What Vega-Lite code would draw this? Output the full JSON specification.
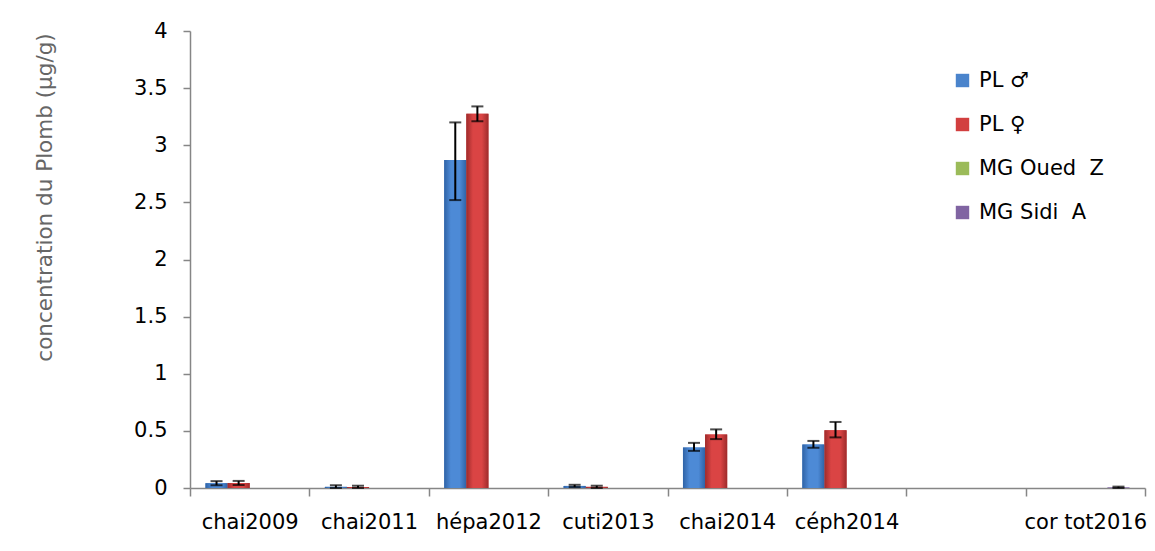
{
  "$schema": "https://vega.github.io/schema/vega-lite/v6.json",
  "width": 955,
  "height": 457,
  "autosize": {"type": "none"},
  "padding": {"left": 190, "top": 31, "right": 10, "bottom": 63},
  "background": "white",
  "config": {
    "view": {"stroke": null},
    "font": "DejaVu Sans"
  },
  "data": {
    "values": [
      {"cat": "chai2009", "series": "PL ♂", "value": 0.042, "lo": 0.024, "hi": 0.06},
      {"cat": "chai2009", "series": "PL ♀", "value": 0.044, "lo": 0.026, "hi": 0.062},
      {"cat": "chai2011", "series": "PL ♂", "value": 0.01, "lo": 0.0, "hi": 0.024},
      {"cat": "chai2011", "series": "PL ♀", "value": 0.008, "lo": 0.0, "hi": 0.02},
      {"cat": "hépa2012", "series": "PL ♂", "value": 2.87, "lo": 2.52, "hi": 3.2},
      {"cat": "hépa2012", "series": "PL ♀", "value": 3.275, "lo": 3.21, "hi": 3.34},
      {"cat": "cuti2013", "series": "PL ♂", "value": 0.018, "lo": 0.008, "hi": 0.028},
      {"cat": "cuti2013", "series": "PL ♀", "value": 0.01, "lo": 0.0, "hi": 0.02},
      {"cat": "chai2014", "series": "PL ♂", "value": 0.355, "lo": 0.325, "hi": 0.395},
      {"cat": "chai2014", "series": "PL ♀", "value": 0.468, "lo": 0.428, "hi": 0.513},
      {"cat": "céph2014", "series": "PL ♂", "value": 0.38, "lo": 0.352, "hi": 0.412},
      {"cat": "céph2014", "series": "PL ♀", "value": 0.506, "lo": 0.443, "hi": 0.578},
      {"cat": "cor tot2016", "series": "MG Sidi \u00a0A", "value": 0.006, "lo": 0.0, "hi": 0.012}
    ]
  },
  "encoding": {
    "x": {
      "field": "cat",
      "type": "nominal",
      "sort": ["chai2009", "chai2011", "hépa2012", "cuti2013", "chai2014", "céph2014", " ", "cor tot2016"],
      "scale": {"domain": ["chai2009", "chai2011", "hépa2012", "cuti2013", "chai2014", "céph2014", " ", "cor tot2016"], "paddingInner": 0, "paddingOuter": 0},
      "axis": {
        "title": null,
        "labelAngle": 0,
        "labelFontSize": 21,
        "labelColor": "black",
        "labelPadding": 15,
        "domainColor": "#868686",
        "tickColor": "#868686",
        "tickBand": "extent",
        "tickSize": 8,
        "domainWidth": 1.5,
        "tickWidth": 1.5
      }
    },
    "xOffset": {
      "field": "series",
      "type": "nominal",
      "scale": {"domain": ["PL ♂", "PL ♀", "MG Oued \u00a0Z", "MG Sidi \u00a0A"], "paddingInner": 0, "paddingOuter": 0.7}
    },
    "y": {
      "field": "value",
      "type": "quantitative",
      "scale": {"domain": [0, 4]},
      "axis": {
        "title": "concentration du Plomb (µg/g)",
        "titleFontSize": 21.5,
        "titleFontWeight": "normal",
        "titleColor": "#666666",
        "titleX": -145,
        "titleY": 166,
        "titleAngle": 270,
        "titleAlign": "center",
        "titleBaseline": "middle",
        "values": [0, 0.5, 1, 1.5, 2, 2.5, 3, 3.5, 4],
        "format": "~g",
        "grid": false,
        "labelFontSize": 21,
        "labelColor": "black",
        "labelPadding": 16,
        "domainColor": "#868686",
        "tickColor": "#868686",
        "tickSize": 7,
        "domainWidth": 1.5,
        "tickWidth": 1.5
      }
    }
  },
  "layer": [
    {
      "mark": {"type": "bar"},
      "encoding": {
        "color": {
          "field": "series",
          "type": "nominal",
          "scale": {"domain": ["PL ♂", "PL ♀", "MG Oued \u00a0Z", "MG Sidi \u00a0A"], "range": ["#4A84CC", "#D23F3F", "#9BBB59", "#8064A2"]},
          "legend": {
            "title": null,
            "orient": "none",
            "legendX": 762,
            "legendY": 39,
            "symbolType": "square",
            "symbolSize": 180,
            "symbolStrokeWidth": 0,
            "labelFontSize": 21,
            "labelColor": "black",
            "rowPadding": 22,
            "labelOffset": 6
          }
        }
      }
    },
    {
      "transform": [{"filter": {"field": "series", "equal": "PL ♂"}}],
      "mark": {"type": "bar", "color": {"gradient": "linear", "x1": 0, "x2": 1, "y1": 0, "y2": 0, "stops": [{"offset": 0, "color": "#2F63A6"}, {"offset": 0.3, "color": "#4D8AD6"}, {"offset": 0.7, "color": "#4D8AD6"}, {"offset": 1, "color": "#2F63A6"}]}}
    },
    {
      "transform": [{"filter": {"field": "series", "equal": "PL ♀"}}],
      "mark": {"type": "bar", "color": {"gradient": "linear", "x1": 0, "x2": 1, "y1": 0, "y2": 0, "stops": [{"offset": 0, "color": "#9E2B2B"}, {"offset": 0.3, "color": "#DA4444"}, {"offset": 0.7, "color": "#DA4444"}, {"offset": 1, "color": "#9E2B2B"}]}}
    },
    {
      "mark": {"type": "rule", "color": "black", "strokeWidth": 2},
      "encoding": {
        "y": {"field": "lo", "type": "quantitative"},
        "y2": {"field": "hi"}
      }
    },
    {
      "mark": {"type": "tick", "color": "black", "thickness": 2, "size": 12},
      "encoding": {
        "y": {"field": "lo", "type": "quantitative"}
      }
    },
    {
      "mark": {"type": "tick", "color": "black", "thickness": 2, "size": 12},
      "encoding": {
        "y": {"field": "hi", "type": "quantitative"}
      }
    }
  ]
}
